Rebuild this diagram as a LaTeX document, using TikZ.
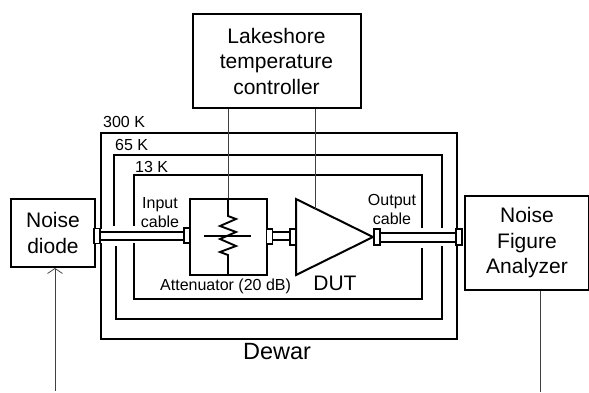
\documentclass[tikz,border=0pt]{standalone}
\usepackage{fontspec}
\usetikzlibrary{arrows.meta}
\setmainfont{Liberation Sans}
\tikzset{x=1pt,y=-1pt,
 box/.style={draw,line width=2pt,fill=white,align=center,inner sep=0pt,anchor=north west,font=\fontsize{21}{25.5}\selectfont},
 wall/.style={line width=2pt},
 thin link/.style={line width=0.8pt,draw=black!75},
 lbl/.style={inner sep=0pt,font=\fontsize{16}{19}\selectfont,align=center},
 big/.style={inner sep=0pt,font=\fontsize{21}{25}\selectfont},
 conn/.style={draw,line width=1.9pt,fill=white,inner sep=0pt,minimum width=6pt,minimum height=15pt},
 cablewire/.style={draw,line width=1.9pt,fill=white,inner sep=0pt}}
\begin{document}
\begin{tikzpicture}
\useasboundingbox (0,0) rectangle (589,392);
% walls
\draw[wall] (101,229) -- (101,133) -- (457,133) -- (457,339) -- (101,339) -- (101,243);
\draw[wall] (114,226) -- (114,155) -- (442,155) -- (442,228);
\draw[wall] (442,246) -- (442,319) -- (116,319) -- (116,246);
\draw[wall] (134,226) -- (134,175) -- (422,175) -- (422,228);
\draw[wall] (422,248) -- (422,299) -- (134,299) -- (134,243);
% boxes
\node[box,minimum width=84pt,minimum height=68pt] (nd) at (10,198) {Noise\\diode};
\node[box,minimum width=168pt,minimum height=94pt] (lk) at (191.5,13) {Lakeshore\\temperature\\controller};
\node[box,minimum width=124pt,minimum height=94pt] (nfa) at (464,195) {Noise\\Figure\\Analyzer};
\node[draw,line width=2pt,minimum width=77pt,minimum height=76pt,inner sep=0pt,anchor=north west] (att) at (189,198) {};
% cables
\node[cablewire,minimum width=86pt,minimum height=8.5pt] (c1) at (143,236) {};
\node[cablewire,minimum width=18pt,minimum height=8.5pt] (c2) at (281,236) {};
\node[cablewire,minimum width=76pt,minimum height=9pt] (c3) at (418,237.5) {};
% amp
\coordinate (a1) at (296,199);
\coordinate (a2) at (296,275);
\coordinate (a3) at (373,237);
\draw[line width=2pt,fill=white,line join=miter] (a1) -- (a3) -- (a2) -- cycle;
% connectors
\node[conn] (k1) at (97,236) {};
\node[conn] (k2) at (187,235.5) {};
\node[conn] (k3) at (269.5,236.5) {};
\node[conn,minimum height=16pt] (k4) at (293,237) {};
\node[conn,minimum height=16pt] (k5) at (377,237) {};
\node[conn,minimum height=16pt] (k6) at (459,237) {};
% resistor
\coordinate (rt) at (228,198);
\coordinate (rb) at (228,274);
\coordinate (wl) at (204,236);
\coordinate (wr) at (251,236);
\draw[line width=1.9pt,line join=miter] (rt) -- (228,216) -- (236,219) -- (220,226) -- (236,232) -- (220,239) -- (236,246) -- (220,252) -- (228,255) -- (rb);
\draw[line width=1.9pt] (wl) -- (wr);
% thin links
\draw[thin link] (lk.south -| rt) -- (rt);
\coordinate (dt) at (315.7,209);
\draw[thin link] (lk.south -| dt) -- (dt);
\coordinate (ndb) at (55,391);
\draw[thin link,-{Straight Barb[length=5pt,width=15pt]}] (ndb) -- (ndb |- nd.south);
\coordinate (nfb) at (540,392);
\draw[thin link] (nfa.south -| nfb) -- (nfb);
% labels
\node[lbl,anchor=west] (t300) at (103,122) {300 K};
\node[lbl,anchor=west] (t65) at (115,144.5) {65 K};
\node[lbl,anchor=west] (t13) at (135,167) {13 K};
\node[lbl] (ic) at (160,213) {Input\\cable};
\node[lbl] (oc) at (392,209) {Output\\cable};
\node[lbl,anchor=west] (at) at (160,286) {Attenuator (20 dB)};
\node[big] (dut) at (335,283) {DUT};
\node[big,font=\fontsize{23.5}{26}\selectfont] (dw) at (277,352) {Dewar};
\end{tikzpicture}
\end{document}
